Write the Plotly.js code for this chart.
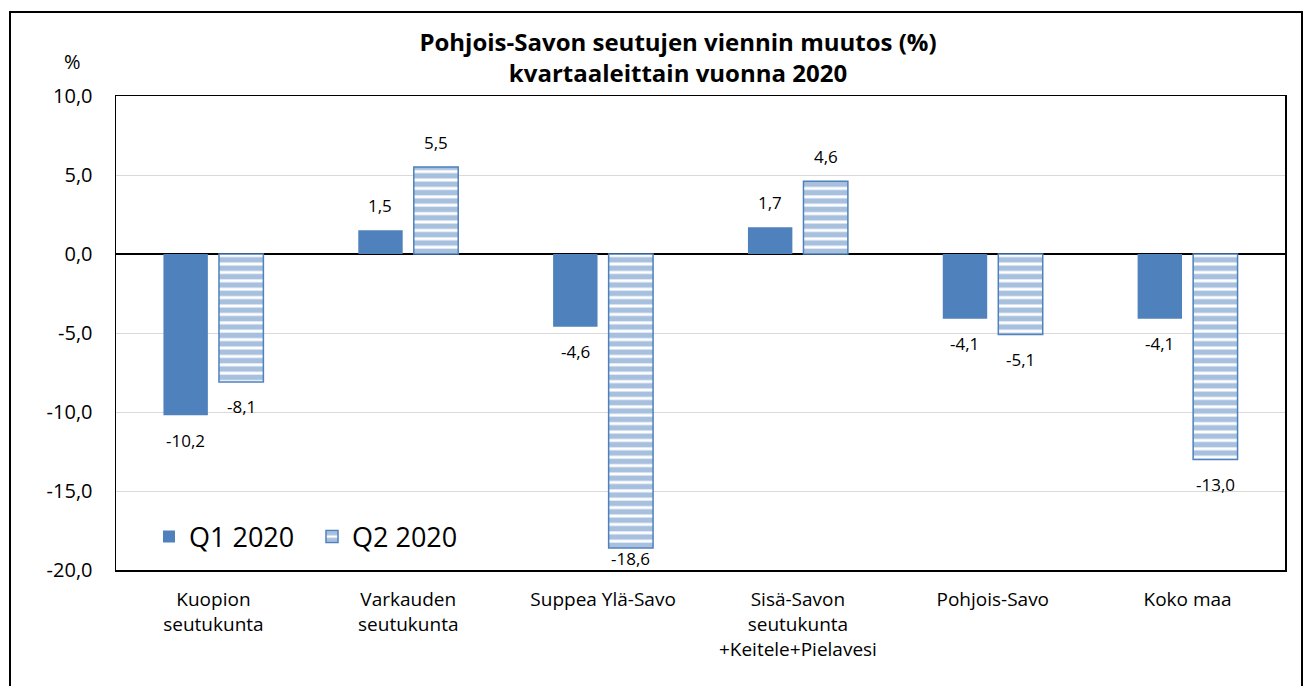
<!DOCTYPE html>
<html>
<head>
<meta charset="utf-8">
<script src="https://cdn.plot.ly/plotly-3.0.1.min.js"></script>
<style>html,body{margin:0;padding:0;background:#fff;}#chart{width:1304px;height:686px;}</style>
</head>
<body>
<div id="chart"></div>
<script>
const categories = ["Kuopion<br>seutukunta", "Varkauden<br>seutukunta", "Suppea Ylä-Savo", "Sisä-Savon<br>seutukunta<br>+Keitele+Pielavesi", "Pohjois-Savo", "Koko maa"];
const q1Values = [-10.2, 1.5, -4.6, 1.7, -4.1, -4.1];
const q2Values = [-8.1, 5.5, -18.6, 4.6, -5.1, -13.0];
const seriesNames = ["Q1 2020", "Q2 2020"];
const yTicks = [10, 5, 0, -5, -10, -15, -20];
const yTickLabels = ["10,0", "5,0", "0,0", "-5,0", "-10,0", "-15,0", "-20,0"];
const yRange = [-20, 10];

const FONT = "'Open Sans', sans-serif";
const BLUE = "#4F81BD";

const W = 1304, H = 686;
const m = {l: 116, r: 19, t: 96, b: 116};
const pw = W - m.l - m.r, ph = H - m.t - m.b;
const px = x => (x - m.l) / pw;
const py = y => (H - m.b - y) / ph;

const BARGAP = 0.43, BARGROUPGAP = 0.2;

const traces = [
  {
    type: "bar", name: seriesNames[0], x: categories, y: q1Values,
    marker: {color: BLUE, line: {width: 0}},
    hoverinfo: "x+y"
  },
  {
    type: "bar", name: seriesNames[1], x: categories, y: q2Values,
    marker: {color: "#ffffff", line: {color: BLUE, width: 1.5},
             pattern: {shape: "-", fgcolor: BLUE, bgcolor: "#ffffff", size: 8.4, solidity: 0.65, fillmode: "overlay"}},
    hoverinfo: "x+y"
  }
];

// data labels placed through the axes: category index offset from bar layout, value on y
const pxPerUnit = ph / (yRange[1] - yRange[0]);
const labelDist = 25;
function fmt(v) { return v.toFixed(1).replace(".", ","); }
const labelAnnots = [];
[q1Values, q2Values].forEach((vals, s) => {
  const off = (1 - BARGAP) / 4 * (s === 0 ? -1 : 1);
  vals.forEach((v, i) => {
    let shift;
    if (v >= 0) {
      const room = (yRange[1] - v) * pxPerUnit - 12;
      shift = Math.min(labelDist, room);
    } else {
      const room = (v - yRange[0]) * pxPerUnit - 12;
      shift = -Math.min(labelDist, room);
    }
    labelAnnots.push({
      xref: "x", yref: "y", x: i + off, y: v, yshift: shift,
      text: fmt(v), showarrow: false, xanchor: "center", yanchor: "middle",
      font: {family: FONT, size: 17, color: "#000"}
    });
  });
});

const layout = {
  width: W, height: H,
  margin: m,
  paper_bgcolor: "#fff", plot_bgcolor: "#fff",
  font: {family: FONT, color: "#000"},
  separators: ",.",
  barmode: "group", bargap: BARGAP, bargroupgap: BARGROUPGAP,
  showlegend: true,
  title: {
    text: "<b>Pohjois-Savon seutujen viennin muutos (%)<br>kvartaaleittain vuonna 2020</b>",
    font: {family: FONT, size: 24, color: "#000"},
    x: 678 / W, xanchor: "center", y: 1 - 51 / H, yanchor: "middle"
  },
  legend: {
    orientation: "h", x: px(149), y: py(537), xanchor: "left", yanchor: "middle",
    font: {family: FONT, size: 27, color: "#000"},
    entrywidth: 118, entrywidthmode: "pixels",
    bgcolor: "rgba(0,0,0,0)", traceorder: "normal"
  },
  xaxis: {
    type: "category", showgrid: false, zeroline: false,
    showline: true, linecolor: "#000", linewidth: 1.5, mirror: true,
    ticks: "", ticklabelstandoff: 12, tickfont: {family: FONT, size: 19, color: "#000"},
    automargin: false
  },
  yaxis: {
    range: yRange, tickmode: "array", tickvals: yTicks, ticktext: yTickLabels,
    showgrid: true, gridcolor: "#d9d9d9", gridwidth: 1,
    zeroline: true, zerolinecolor: "#000", zerolinewidth: 1.5,
    showline: true, linecolor: "#000", linewidth: 1.5, mirror: true,
    ticks: "", ticklabelstandoff: 18,
    tickfont: {family: FONT, size: 20, color: "#000"},
    automargin: false
  },
  annotations: [
    {text: "%", xref: "paper", yref: "paper", x: px(72), y: py(62), xanchor: "center", yanchor: "middle",
     showarrow: false, font: {family: FONT, size: 20, color: "#000"}}
  ].concat(labelAnnots),
  shapes: [
    {type: "rect", xref: "paper", yref: "paper", x0: px(10), x1: px(1302), y0: py(700), y1: py(12),
     line: {color: "#000", width: 2}, fillcolor: "rgba(0,0,0,0)", layer: "below"}
  ]
};

Plotly.newPlot("chart", traces, layout, {displayModeBar: false, staticPlot: true});
</script>
</body>
</html>
